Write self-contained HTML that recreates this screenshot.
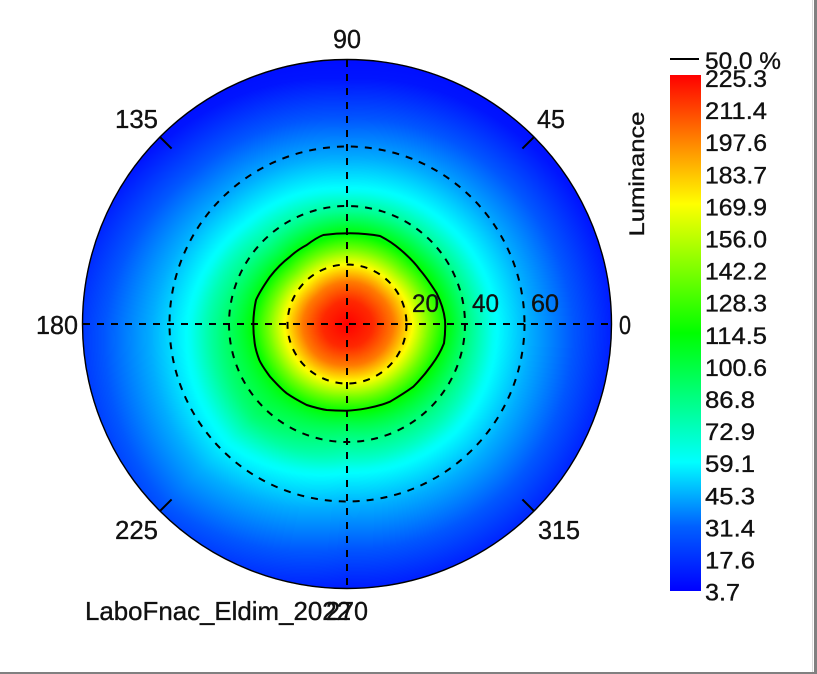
<!DOCTYPE html>
<html>
<head>
<meta charset="utf-8">
<style>
  html,body{margin:0;padding:0;background:#fff;}
  #wrap{position:relative;width:817px;height:674px;overflow:hidden;background:#fff;}
  svg,canvas{position:absolute;left:0;top:0;}
  text{font-family:"Liberation Sans",Arial,sans-serif;fill:#111;stroke:#111;stroke-width:0.35;}
</style>
</head>
<body>
<div id="wrap">
  <!-- fallback heatmap -->
  <svg width="817" height="674">
    <defs>
      <radialGradient id="fb" cx="347" cy="324" r="264.5" gradientUnits="userSpaceOnUse">
        <stop offset="0" stop-color="#ff0000"/>
        <stop offset="0.12" stop-color="#ff5000"/>
        <stop offset="0.23" stop-color="#ffee00"/>
        <stop offset="0.36" stop-color="#00ff00"/>
        <stop offset="0.54" stop-color="#00ffff"/>
        <stop offset="0.68" stop-color="#00b0ff"/>
        <stop offset="0.83" stop-color="#0058ff"/>
        <stop offset="1" stop-color="#0010ff"/>
      </radialGradient>
    </defs>
    <circle cx="347" cy="324" r="264.5" fill="url(#fb)"/>
  </svg>
  <canvas id="c" width="817" height="674"></canvas>
  <svg width="817" height="674">
    <defs>
      <linearGradient id="cb" x1="0" y1="1" x2="0" y2="0">
        <stop offset="0" stop-color="#0000ff"/>
        <stop offset="0.125" stop-color="#0060ff"/>
        <stop offset="0.25" stop-color="#00ffff"/>
        <stop offset="0.5" stop-color="#00ff00"/>
        <stop offset="0.75" stop-color="#ffff00"/>
        <stop offset="0.875" stop-color="#ff8000"/>
        <stop offset="1" stop-color="#ff0000"/>
      </linearGradient>
    </defs>

    <!-- circle border -->
    <circle cx="347" cy="324" r="264.5" fill="none" stroke="#000" stroke-width="1.4"/>

    <!-- dashed grid -->
    <g fill="none" stroke="#000" stroke-width="2" stroke-dasharray="7 7">
      <line x1="83" y1="324" x2="611" y2="324"/>
      <line x1="347" y1="60" x2="347" y2="588"/>
      <circle cx="347" cy="324" r="59.5"/>
      <circle cx="347" cy="324" r="118"/>
      <circle cx="347" cy="324" r="177.5"/>
    </g>

    <!-- ticks -->
    <g stroke="#000" stroke-width="2">
      <line x1="533.7" y1="137.3" x2="522.4" y2="148.6"/>
      <line x1="160.3" y1="137.3" x2="171.6" y2="148.6"/>
      <line x1="160.3" y1="510.7" x2="171.6" y2="499.4"/>
      <line x1="533.7" y1="510.7" x2="522.4" y2="499.4"/>
    </g>

    <!-- 50% contour -->
    <path fill="none" stroke="#000" stroke-width="2" stroke-linejoin="round"
      d="M323.3,235 C335,233.5 345,233.3 350,233.3 C362,233.5 372,234.5 380,236 C388,240 395,245 400,249.3 C408,256 415,263 420,270 C427,278 432,286 436.7,293.3 C441,302 444,311 445,320 C445.5,328 445,336 444,343.3 C441,351 437,358 431.7,365 C426,373 420,380 413.3,386.7 C406,392 398,397 390,401.7 C382,405 374,407 366.7,408.3 C360,409.5 353,410.5 346.7,410.7 C340,410.7 333,410.5 326.7,410 C320,409 313,407 306.7,405 C299,401 292,397 286.7,393.3 C280,388 275,382 270,376.7 C266,371 262,366 259.3,360 C257,354 255.5,349 254.7,343.3 C253.8,337 253.3,330 253.3,323.3 C253.5,315 254.5,307 256,300 C260,291 265,284 270,276.7 C276,269 283,262 290,256.7 C295,252 301,248 306.7,245 C312,241 318,237 323.3,235 Z"/>

    <!-- radial labels -->
    <g font-size="25">
      <text x="412" y="312" textLength="27" lengthAdjust="spacingAndGlyphs">20</text>
      <text x="472" y="312" textLength="27" lengthAdjust="spacingAndGlyphs">40</text>
      <text x="531" y="312" textLength="28" lengthAdjust="spacingAndGlyphs">60</text>
    </g>

    <!-- angle labels -->
    <g font-size="26">
      <text x="333" y="48" textLength="28" lengthAdjust="spacingAndGlyphs">90</text>
      <text x="115" y="128" textLength="43" lengthAdjust="spacingAndGlyphs">135</text>
      <text x="537" y="128" textLength="28" lengthAdjust="spacingAndGlyphs">45</text>
      <text x="36" y="334" textLength="42" lengthAdjust="spacingAndGlyphs">180</text>
      <text x="619" y="334" textLength="12" lengthAdjust="spacingAndGlyphs">0</text>
      <text x="115" y="539" textLength="43" lengthAdjust="spacingAndGlyphs">225</text>
      <text x="538" y="539" textLength="42" lengthAdjust="spacingAndGlyphs">315</text>
      <text x="85" y="620" textLength="266" lengthAdjust="spacingAndGlyphs">LaboFnac_Eldim_2022</text>
      <text x="326" y="620" textLength="42" lengthAdjust="spacingAndGlyphs">270</text>
    </g>

    <!-- colorbar -->
    <rect x="670" y="75" width="31" height="516" fill="url(#cb)"/>
    <line x1="670" y1="59" x2="699" y2="59" stroke="#000" stroke-width="2"/>
    <text x="705" y="69" font-size="24" textLength="76" lengthAdjust="spacingAndGlyphs">50.0 %</text>
    <text transform="translate(644,174) rotate(-90)" text-anchor="middle" font-size="21" textLength="125" lengthAdjust="spacingAndGlyphs">Luminance</text>
    <g font-size="24">
      <text x="705" y="87" textLength="62" lengthAdjust="spacingAndGlyphs">225.3</text>
      <text x="705" y="119.1" textLength="62" lengthAdjust="spacingAndGlyphs">211.4</text>
      <text x="705" y="151.2" textLength="62" lengthAdjust="spacingAndGlyphs">197.6</text>
      <text x="705" y="183.3" textLength="62" lengthAdjust="spacingAndGlyphs">183.7</text>
      <text x="705" y="215.4" textLength="62" lengthAdjust="spacingAndGlyphs">169.9</text>
      <text x="705" y="247.5" textLength="62" lengthAdjust="spacingAndGlyphs">156.0</text>
      <text x="705" y="279.6" textLength="62" lengthAdjust="spacingAndGlyphs">142.2</text>
      <text x="705" y="311.7" textLength="62" lengthAdjust="spacingAndGlyphs">128.3</text>
      <text x="705" y="343.8" textLength="62" lengthAdjust="spacingAndGlyphs">114.5</text>
      <text x="705" y="375.9" textLength="62" lengthAdjust="spacingAndGlyphs">100.6</text>
      <text x="705" y="408" textLength="50" lengthAdjust="spacingAndGlyphs">86.8</text>
      <text x="705" y="440.1" textLength="50" lengthAdjust="spacingAndGlyphs">72.9</text>
      <text x="705" y="472.2" textLength="50" lengthAdjust="spacingAndGlyphs">59.1</text>
      <text x="705" y="504.3" textLength="50" lengthAdjust="spacingAndGlyphs">45.3</text>
      <text x="705" y="536.4" textLength="50" lengthAdjust="spacingAndGlyphs">31.4</text>
      <text x="705" y="568.5" textLength="50" lengthAdjust="spacingAndGlyphs">17.6</text>
      <text x="705" y="600.6" textLength="35" lengthAdjust="spacingAndGlyphs">3.7</text>
    </g>

    <!-- frame -->
    <rect x="812" y="0" width="1" height="672" fill="#dcdcdc"/>
    <rect x="814" y="0" width="3" height="674" fill="#808080"/>
    <rect x="0" y="672" width="817" height="2" fill="#808080"/>
  </svg>
</div>
<script>
(function(){
  var c=document.getElementById('c');
  if(!c||!c.getContext)return;
  var ctx=c.getContext('2d');
  var W=817,H=674,cx=347,cy=324,R=264.5;
  var img=ctx.createImageData(W,H);
  var d=img.data;
  var pr=[0,25,45,62,80,95,120,142,178,220,264,320];
  var pv=[1,0.96,0.88,0.76,0.61,0.50,0.36,0.26,0.17,0.085,0.02,0];
  var sCore=[1.04,0.95,0.94,0.91,0.99,0.97,0.915,0.97];
  var sOut=[1.03,0.97,0.93,0.98,1.10,1.16,1.02,1.05];
  function prof(r){
    if(r<=0)return 1;
    for(var i=1;i<pr.length;i++){
      if(r<=pr[i]){var f=(r-pr[i-1])/(pr[i]-pr[i-1]);return pv[i-1]+(pv[i]-pv[i-1])*f;}
    }
    return 0;
  }
  function cmap(v){
    if(v<0)v=0;if(v>1)v=1;
    if(v<0.25)return [0,255*v/0.25,255];
    if(v<0.5)return [0,255,255*(1-(v-0.25)/0.25)];
    if(v<0.75)return [255*(v-0.5)/0.25,255,0];
    return [255,255*(1-(v-0.75)/0.25),0];
  }
  for(var y=0;y<H;y++){
    for(var x=0;x<W;x++){
      var dx=x+0.5-cx, dy=cy-(y+0.5);
      var r=Math.sqrt(dx*dx+dy*dy);
      if(r>R)continue;
      var th=Math.atan2(dy,dx)*180/Math.PI; if(th<0)th+=360;
      var t=th/45, i0=Math.floor(t)%8, f=t-Math.floor(t), i1=(i0+1)%8;
      var sc=sCore[i0]+(sCore[i1]-sCore[i0])*f;
      var so=sOut[i0]+(sOut[i1]-sOut[i0])*f;
      var w=(r-90)/50; if(w<0)w=0; if(w>1)w=1; w=w*w*(3-2*w);
      var s=sc*(1-w)+so*w;
      var v=prof(r/s);
      var col=cmap(v);
      var k=(y*W+x)*4;
      d[k]=col[0];d[k+1]=col[1];d[k+2]=col[2];d[k+3]=255;
    }
  }
  ctx.putImageData(img,0,0);
})();
</script>
</body>
</html>
